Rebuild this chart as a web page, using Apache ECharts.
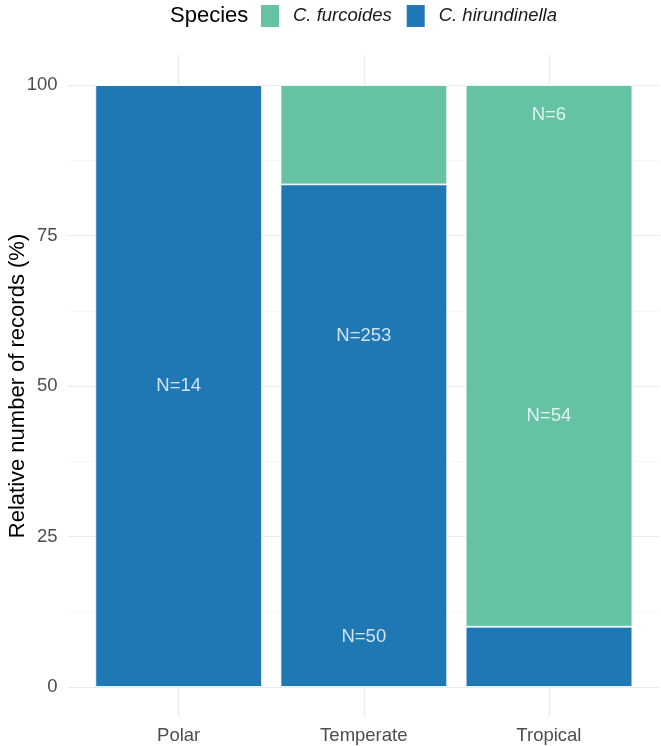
<!DOCTYPE html>
<html>
<head>
<meta charset="utf-8">
<script src="https://cdn.jsdelivr.net/npm/echarts@6/dist/echarts.min.js"></script>
<style>
  html, body { margin: 0; padding: 0; background: #fff; }
  #chart { width: 661px; height: 746px; }
</style>
</head>
<body>
<div id="chart"></div>
<script>
const zones = ['Polar', 'Temperate', 'Tropical'];
const hirundinellaN = [14, 253, 6];
const furcoidesN = [0, 50, 54];
const yTicks = [0, 25, 50, 75, 100];
const yMinorTicks = [12.5, 37.5, 62.5, 87.5];
const xTicks = [1, 2, 3];

const totals = zones.map((z, i) => hirundinellaN[i] + furcoidesN[i]);
const hirPct = hirundinellaN.map((n, i) => n / totals[i] * 100);
const furPct = furcoidesN.map((n, i) => n / totals[i] * 100);

// the original labels sit where a reversed stack would put them
const labelPoints = [];
zones.forEach((z, i) => {
  if (hirundinellaN[i] > 0) labelPoints.push([i + 1, furPct[i] + hirPct[i] / 2, 'N=' + hirundinellaN[i]]);
  if (furcoidesN[i] > 0) labelPoints.push([i + 1, furPct[i] / 2, 'N=' + furcoidesN[i]]);
});

const font = "'Liberation Sans', Arial, sans-serif";
const myChart = echarts.init(document.getElementById('chart'));

// grid 0: panel with ggplot-style expansion (0.6 of a band each side)
// grid 1: same panel minus the expansion, so that each category gets one band
const option = {
  animation: false,
  textStyle: { fontFamily: font },
  title: {
    text: 'Species',
    left: 170,
    top: 5,
    padding: 0,
    textStyle: { fontSize: 22, fontWeight: 'normal', color: '#000', fontFamily: font }
  },
  legend: {
    left: 259,
    top: 3,
    padding: 0,
    icon: 'rect',
    itemWidth: 20,
    itemHeight: 24,
    itemGap: 13,
    data: ['C. furcoides', 'C. hirundinella'],
    textStyle: { fontSize: 18.5, fontStyle: 'italic', color: '#1a1a1a', padding: [0, 0, 0, 8], fontFamily: font }
  },
  grid: [
    { left: 67.6, right: 1, top: 55, bottom: 29, containLabel: false, outerBoundsMode: 'none' },
    { left: 86.1, right: 19.4, top: 55, bottom: 29, containLabel: false, outerBoundsMode: 'none' }
  ],
  xAxis: [
    {
      type: 'value',
      gridIndex: 0,
      min: 0.4,
      max: 3.6,
      axisLine: { show: false },
      axisTick: { show: false, customValues: xTicks },
      axisLabel: {
        customValues: xTicks,
        formatter: v => zones[Math.round(v) - 1],
        fontSize: 18.5,
        color: '#4d4d4d',
        margin: 9
      },
      splitLine: { show: true, lineStyle: { color: '#ebebeb', width: 1.2 } }
    },
    {
      type: 'category',
      gridIndex: 1,
      data: zones,
      show: false
    }
  ],
  yAxis: [
    {
      type: 'value',
      gridIndex: 0,
      min: -5,
      max: 105,
      name: 'Relative number of records (%)',
      nameLocation: 'middle',
      nameGap: 39,
      nameMoveOverlap: false,
      nameTextStyle: { fontSize: 22, color: '#000', fontFamily: font },
      axisLine: { show: false },
      axisTick: { show: false, customValues: yTicks },
      axisLabel: { customValues: yTicks, fontSize: 18.5, color: '#4d4d4d', margin: 10 },
      splitLine: { show: true, lineStyle: { color: '#ebebeb', width: 1.2 } }
    },
    {
      type: 'value',
      gridIndex: 0,
      position: 'left',
      min: -5,
      max: 105,
      axisLine: { show: false },
      axisTick: { show: false, customValues: yMinorTicks },
      axisLabel: { show: false, customValues: yMinorTicks },
      splitLine: { show: true, lineStyle: { color: '#f3f3f3', width: 0.7 } }
    },
    {
      type: 'value',
      gridIndex: 1,
      min: -5,
      max: 105,
      show: false,
      splitLine: { show: false }
    }
  ],
  series: [
    {
      name: 'C. hirundinella',
      type: 'bar',
      stack: 'all',
      xAxisIndex: 1,
      yAxisIndex: 2,
      barWidth: '90%',
      itemStyle: { color: '#1f78b4', borderColor: '#fff', borderWidth: 0.8 },
      data: hirPct
    },
    {
      name: 'C. furcoides',
      type: 'bar',
      stack: 'all',
      xAxisIndex: 1,
      yAxisIndex: 2,
      barWidth: '90%',
      itemStyle: { color: '#66c2a5', borderColor: '#fff', borderWidth: 0.8 },
      data: furPct
    },
    {
      name: 'labels',
      type: 'scatter',
      xAxisIndex: 0,
      yAxisIndex: 0,
      symbolSize: 0,
      silent: true,
      z: 10,
      label: {
        show: true,
        position: 'inside',
        formatter: p => p.value[2],
        color: '#fff',
        fontSize: 18.5,
        fontFamily: font
      },
      data: labelPoints
    }
  ]
};
myChart.setOption(option);
</script>
</body>
</html>
